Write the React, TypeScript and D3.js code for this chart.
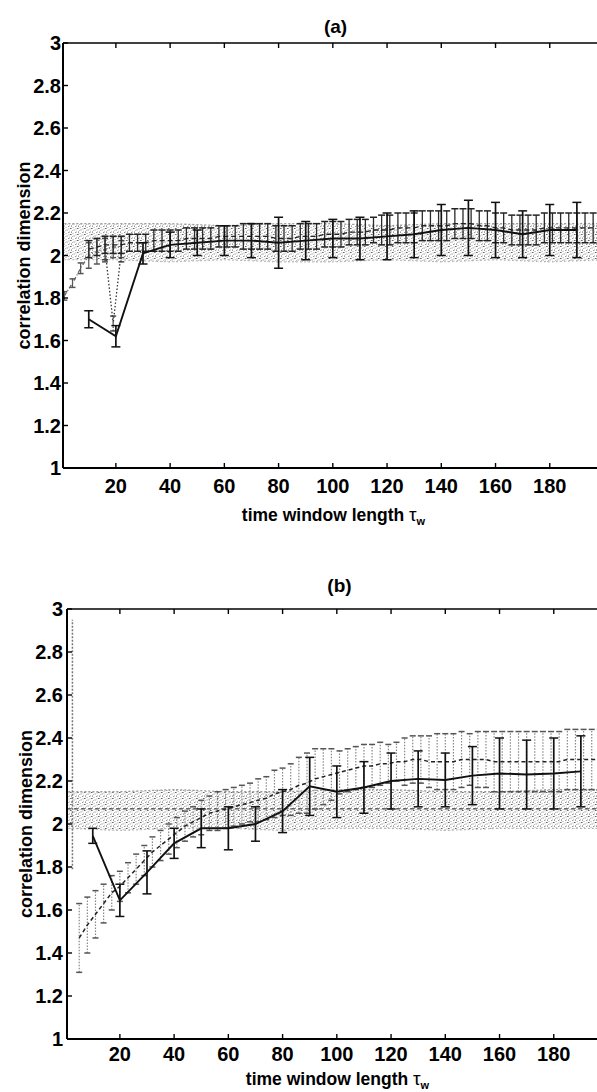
import React from 'react';
import * as d3 from 'd3';

const xTicks = [20, 40, 60, 80, 100, 120, 140, 160, 180];
const xTickLabels = ['20', '40', '60', '80', '100', '120', '140', '160', '180'];
const yTicks = [1, 1.2, 1.4, 1.6, 1.8, 2, 2.2, 2.4, 2.6, 2.8, 3];
const yTickLabels = ['1', '1.2', '1.4', '1.6', '1.8', '2', '2.2', '2.4', '2.6', '2.8', '3'];

// ---------- panel (a) ----------
const aSolidT = [10, 20, 30, 40, 50, 60, 70, 80, 90, 100, 110, 120, 130, 140, 150, 160, 170, 180, 190];
const aSolidM = [1.70, 1.62, 2.01, 2.05, 2.06, 2.07, 2.07, 2.06, 2.07, 2.08, 2.08, 2.09, 2.10, 2.12, 2.13, 2.12, 2.10, 2.12, 2.12];
const aSolidE = [0.04, 0.05, 0.05, 0.06, 0.06, 0.07, 0.08, 0.12, 0.09, 0.09, 0.10, 0.11, 0.11, 0.12, 0.13, 0.13, 0.11, 0.12, 0.13];

const aDashT = [10, 13, 16, 19, 22, 25, 28, 31, 34, 37, 40, 43, 46, 49, 52, 55, 58, 61, 64, 67, 70, 73, 76, 79, 82, 85, 88, 91, 94, 97, 100, 103, 106, 109, 112, 115, 118, 121, 124, 127, 130, 133, 136, 139, 142, 145, 148, 151, 154, 157, 160, 163, 166, 169, 172, 175, 178, 181, 184, 187, 190, 193, 196];
const aDashM = [2.03, 2.04, 2.05, 2.05, 2.05, 2.06, 2.06, 2.06, 2.07, 2.07, 2.07, 2.07, 2.08, 2.08, 2.08, 2.08, 2.09, 2.09, 2.09, 2.09, 2.09, 2.09, 2.09, 2.08, 2.08, 2.08, 2.09, 2.09, 2.09, 2.10, 2.10, 2.10, 2.11, 2.11, 2.11, 2.12, 2.12, 2.12, 2.13, 2.13, 2.13, 2.14, 2.14, 2.14, 2.14, 2.15, 2.15, 2.15, 2.14, 2.14, 2.13, 2.13, 2.12, 2.12, 2.12, 2.12, 2.13, 2.13, 2.13, 2.13, 2.13, 2.13, 2.13];
const aDashE = [0.04, 0.04, 0.04, 0.04, 0.04, 0.04, 0.04, 0.04, 0.05, 0.05, 0.05, 0.05, 0.05, 0.05, 0.05, 0.05, 0.05, 0.05, 0.05, 0.06, 0.06, 0.06, 0.06, 0.06, 0.06, 0.06, 0.06, 0.06, 0.06, 0.06, 0.06, 0.06, 0.06, 0.06, 0.06, 0.06, 0.07, 0.07, 0.07, 0.07, 0.07, 0.07, 0.07, 0.07, 0.07, 0.07, 0.07, 0.07, 0.07, 0.07, 0.07, 0.07, 0.07, 0.07, 0.07, 0.07, 0.07, 0.07, 0.07, 0.07, 0.07, 0.07, 0.07];

const aGrayT = [1, 4, 7, 10, 13, 16, 19, 22];
const aGrayM = [1.81, 1.87, 1.94, 2.00, 2.02, 2.03, 2.04, 2.04];
const aGrayE = [0.02, 0.02, 0.025, 0.06, 0.06, 0.06, 0.05, 0.05];

const aDotT = [16, 19, 22];
const aDotM = [2.03, 1.68, 2.02];
const aDotE = [0.05, 0.035, 0.05];

const aBandT = [1, 20, 40, 60, 80, 100, 120, 140, 160, 180, 200];
const aBandLo = [1.98, 1.98, 1.97, 1.98, 1.97, 1.97, 1.98, 1.97, 1.98, 1.97, 1.98];
const aBandHi = [2.15, 2.15, 2.15, 2.14, 2.15, 2.15, 2.14, 2.15, 2.15, 2.15, 2.15];

// ---------- panel (b) ----------
const bSolidT = [10, 20, 30, 40, 50, 60, 70, 80, 90, 100, 110, 120, 130, 140, 150, 160, 170, 180, 190];
const bSolidM = [1.945, 1.645, 1.775, 1.91, 1.98, 1.98, 2.00, 2.06, 2.175, 2.15, 2.17, 2.20, 2.21, 2.205, 2.225, 2.235, 2.23, 2.235, 2.245];
const bSolidE = [0.035, 0.075, 0.10, 0.07, 0.09, 0.10, 0.08, 0.10, 0.135, 0.12, 0.12, 0.13, 0.13, 0.125, 0.135, 0.165, 0.16, 0.165, 0.165];

const bDashT = [5, 8, 11, 14, 17, 20, 23, 26, 29, 32, 35, 38, 41, 44, 47, 50, 53, 56, 59, 62, 65, 68, 71, 74, 77, 80, 83, 86, 89, 92, 95, 98, 101, 104, 107, 110, 113, 116, 119, 122, 125, 128, 131, 134, 137, 140, 143, 146, 149, 152, 155, 158, 161, 164, 167, 170, 173, 176, 179, 182, 185, 188, 191, 194, 197];
const bDashM = [1.47, 1.53, 1.58, 1.63, 1.68, 1.71, 1.75, 1.79, 1.83, 1.87, 1.90, 1.93, 1.96, 1.99, 2.01, 2.03, 2.05, 2.06, 2.07, 2.08, 2.09, 2.10, 2.11, 2.12, 2.14, 2.15, 2.16, 2.18, 2.19, 2.21, 2.22, 2.23, 2.24, 2.25, 2.26, 2.27, 2.27, 2.28, 2.28, 2.29, 2.29, 2.30, 2.30, 2.29, 2.29, 2.29, 2.29, 2.30, 2.30, 2.30, 2.30, 2.29, 2.29, 2.29, 2.29, 2.29, 2.29, 2.29, 2.29, 2.29, 2.30, 2.30, 2.30, 2.30, 2.30];
const bDashE = [0.16, 0.13, 0.11, 0.09, 0.08, 0.07, 0.07, 0.07, 0.07, 0.07, 0.07, 0.07, 0.07, 0.07, 0.07, 0.08, 0.08, 0.09, 0.09, 0.09, 0.09, 0.09, 0.10, 0.10, 0.11, 0.11, 0.12, 0.13, 0.14, 0.14, 0.13, 0.12, 0.10, 0.10, 0.10, 0.10, 0.10, 0.10, 0.09, 0.09, 0.11, 0.11, 0.11, 0.12, 0.13, 0.13, 0.13, 0.13, 0.12, 0.13, 0.13, 0.14, 0.14, 0.14, 0.14, 0.14, 0.14, 0.14, 0.14, 0.14, 0.14, 0.14, 0.14, 0.14, 0.14];

const bSpikeT = [2.5];
const bSpikeM = [2.37];
const bSpikeE = [0.58];

const bBandT = [1, 20, 40, 60, 80, 100, 120, 140, 160, 180, 200];
const bBandLo = [1.98, 1.97, 1.98, 1.98, 1.97, 1.98, 1.98, 1.97, 1.98, 1.98, 1.98];
const bBandHi = [2.15, 2.15, 2.16, 2.15, 2.15, 2.16, 2.16, 2.15, 2.15, 2.16, 2.16];
const bBandMid = 2.07;

const STY: any = {
  solid: { line: { stroke: '#111', strokeWidth: 1.9 }, bar: { stroke: '#111', strokeWidth: 1.7 }, cap: 9, capStroke: '#111' },
  dashA: { line: { stroke: '#222', strokeWidth: 1.3, strokeDasharray: '5 3' }, bar: { stroke: '#2a2a2a', strokeWidth: 1.3 }, cap: 7, capStroke: '#222' },
  dashB: { line: { stroke: '#222', strokeWidth: 1.5, strokeDasharray: '4 3' }, bar: { stroke: '#888', strokeWidth: 1.2, strokeDasharray: '1.5 1.5' }, cap: 6, capStroke: '#555' },
  gray: { line: { stroke: '#666', strokeWidth: 1.3, strokeDasharray: '4 2 1 2' }, bar: { stroke: '#555', strokeWidth: 1.2 }, cap: 6, capStroke: '#555' },
  dot: { line: { stroke: '#333', strokeWidth: 1.3, strokeDasharray: '1.5 2' }, bar: { stroke: '#444', strokeWidth: 1.2, strokeDasharray: '1.5 1.5' }, cap: 6, capStroke: '#444' },
  spike: { line: null, bar: { stroke: '#777', strokeWidth: 1.5, strokeDasharray: '2 1.5' }, cap: 0, capStroke: '#777' },
};

function ErrSeries({ t, m, e, x, y, kind }: any) {
  const s = STY[kind];
  const pts = t.map((tt: number, i: number) => [tt, m[i], e[i]]);
  const line = d3.line<any>().x((d) => x(d[0])).y((d) => y(d[1]));
  return (
    <g>
      {pts.map((d: any, i: number) => {
        const cx = x(d[0]);
        const y0 = y(d[1] - d[2]);
        const y1 = y(d[1] + d[2]);
        return (
          <g key={i}>
            <line x1={cx} x2={cx} y1={y0} y2={y1} fill="none" {...s.bar} />
            {s.cap > 0 && (
              <>
                <line x1={cx - s.cap / 2} x2={cx + s.cap / 2} y1={y0} y2={y0} stroke={s.capStroke} strokeWidth={1.5} />
                <line x1={cx - s.cap / 2} x2={cx + s.cap / 2} y1={y1} y2={y1} stroke={s.capStroke} strokeWidth={1.5} />
              </>
            )}
          </g>
        );
      })}
      {s.line && <path d={line(pts) || ''} fill="none" {...s.line} />}
    </g>
  );
}

function Panel({ p }: any) {
  const x = d3.scaleLinear().domain([0.5, 200]).range([p.left, p.right]);
  const y = d3.scaleLinear().domain([1, 3]).range([p.bottom, p.top]);
  const band = p.band.t.map((tt: number, i: number) => [tt, p.band.lo[i], p.band.hi[i]]);
  const area = d3.area<any>().x((d) => x(d[0])).y0((d) => y(d[1])).y1((d) => y(d[2]));
  const edgeHi = d3.line<any>().x((d) => x(d[0])).y((d) => y(d[2]));
  const edgeLo = d3.line<any>().x((d) => x(d[0])).y((d) => y(d[1]));
  const cx = (p.left + p.right) / 2;
  const font = "'Liberation Sans', Arial, Helvetica, sans-serif";
  return (
    <g>
      <defs>
        <clipPath id={`clip-${p.id}`}>
          <rect x={p.left} y={p.top} width={p.right - p.left} height={p.bottom - p.top} />
        </clipPath>
      </defs>
      <g clipPath={`url(#clip-${p.id})`}>
        <path d={area(band) || ''} fill="url(#spk)" />
        <path d={edgeHi(band) || ''} fill="none" stroke="#999" strokeWidth={1.3} strokeDasharray="2 2" />
        <path d={edgeLo(band) || ''} fill="none" stroke="#aaa" strokeWidth={1.2} strokeDasharray="1.5 2.5" />
        {p.mid != null && (
          <line x1={p.left} x2={p.right} y1={y(p.mid)} y2={y(p.mid)} stroke="#444" strokeWidth={1.3} strokeDasharray="4 3" />
        )}
        {p.series.map((s: any, i: number) => (
          <ErrSeries key={i} {...s} x={x} y={y} />
        ))}
      </g>
      {/* axes box */}
      <line x1={p.left} x2={p.left} y1={p.top} y2={p.bottom} stroke="#000" strokeWidth={2} />
      <line x1={p.left} x2={p.right} y1={p.bottom} y2={p.bottom} stroke="#000" strokeWidth={2} />
      <line x1={p.left} x2={p.right} y1={p.top} y2={p.top} stroke="#000" strokeWidth={1.6} />
      <line x1={p.right} x2={p.right} y1={p.top} y2={p.bottom} stroke="#000" strokeWidth={1.6} />
      {xTicks.map((t, i) => (
        <g key={`xt${i}`}>
          <line x1={x(t)} x2={x(t)} y1={p.bottom} y2={p.bottom - 5} stroke="#000" strokeWidth={1.4} />
          <line x1={x(t)} x2={x(t)} y1={p.top} y2={p.top + 5} stroke="#000" strokeWidth={1.4} />
          <text x={x(t)} y={p.xTickY} textAnchor="middle" fontFamily={font} fontWeight="bold" fontSize={20}>
            {xTickLabels[i]}
          </text>
        </g>
      ))}
      {yTicks.map((v, i) => (
        <g key={`yt${i}`}>
          <line x1={p.left} x2={p.left + 5} y1={y(v)} y2={y(v)} stroke="#000" strokeWidth={1.4} />
          <text x={p.yTickX} y={y(v)} dy="0.36em" textAnchor="end" fontFamily={font} fontWeight="bold" fontSize={20}>
            {yTickLabels[i]}
          </text>
        </g>
      ))}
      <text x={cx + 2} y={p.titleY} textAnchor="middle" fontFamily={font} fontWeight="bold" fontSize={19}>
        {p.title}
      </text>
      <text x={cx} y={p.xLabelY} textAnchor="middle" fontFamily={font} fontWeight="bold" fontSize={17.5}>
        time window length <tspan fontWeight="normal" fontSize={19}>τ</tspan>
        <tspan dy={3.5} fontSize={11}>w</tspan>
      </text>
      <text
        transform={`translate(${p.yLabelX},${(p.top + p.bottom) / 2}) rotate(-90)`}
        textAnchor="middle"
        fontFamily={font}
        fontWeight="bold"
        fontSize={18}
      >
        correlation dimension
      </text>
    </g>
  );
}

const panelA = {
  id: 'a', title: '(a)', left: 63, right: 604, top: 43, bottom: 468,
  titleY: 33, xTickY: 493, xLabelY: 521, yLabelX: 30, yTickX: 61,
  band: { t: aBandT, lo: aBandLo, hi: aBandHi }, mid: null,
  series: [
    { t: aGrayT, m: aGrayM, e: aGrayE, kind: 'gray' },
    { t: aDotT, m: aDotM, e: aDotE, kind: 'dot' },
    { t: aDashT, m: aDashM, e: aDashE, kind: 'dashA' },
    { t: aSolidT, m: aSolidM, e: aSolidE, kind: 'solid' },
  ],
};

const panelB = {
  id: 'b', title: '(b)', left: 67, right: 608, top: 609, bottom: 1039,
  titleY: 592, xTickY: 1061, xLabelY: 1085, yLabelX: 32, yTickX: 63,
  band: { t: bBandT, lo: bBandLo, hi: bBandHi }, mid: bBandMid,
  series: [
    { t: bSpikeT, m: bSpikeM, e: bSpikeE, kind: 'spike' },
    { t: bDashT, m: bDashM, e: bDashE, kind: 'dashB' },
    { t: bSolidT, m: bSolidM, e: bSolidE, kind: 'solid' },
  ],
};

export default function App() {
  return (
    <svg width={597} height={1092} style={{ position: 'absolute', left: 0, top: 0, background: '#fff' }}>
      <defs>
        <pattern id="spk" width="7" height="6" patternUnits="userSpaceOnUse">
          <rect x="0" y="0" width="1.6" height="1" fill="#666" />
          <rect x="3.5" y="1.5" width="1.2" height="1" fill="#888" />
          <rect x="1" y="3.5" width="1" height="1.2" fill="#777" />
          <rect x="5" y="4" width="1.4" height="1" fill="#999" />
          <rect x="2.5" y="5" width="1.2" height="0.9" fill="#aaa" />
          <rect x="5.5" y="0.5" width="0.9" height="0.9" fill="#888" />
          <rect x="2" y="2" width="0.9" height="0.9" fill="#aaa" />
          <rect x="6" y="2.8" width="0.8" height="0.8" fill="#999" />
        </pattern>
      </defs>
      <rect x={0} y={0} width={597} height={1092} fill="#fff" />
      <Panel p={panelA} />
      <Panel p={panelB} />
    </svg>
  );
}
